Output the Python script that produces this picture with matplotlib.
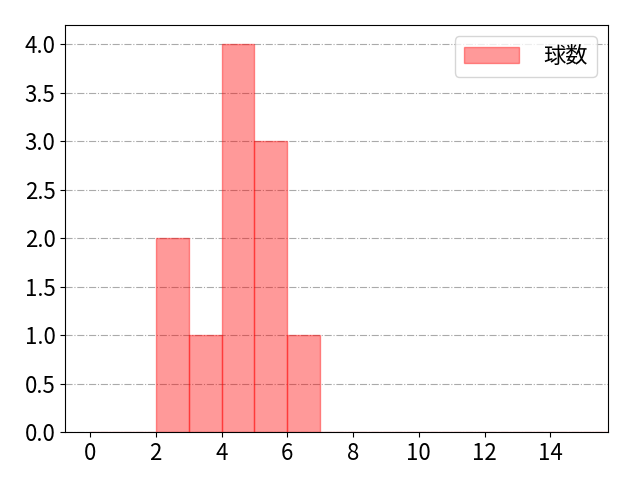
import numpy as np
import matplotlib
matplotlib.use("Agg")
import matplotlib.pyplot as plt

plt.rcParams['font.family'] = ['Noto Sans CJK JP', 'DejaVu Sans']

# pitch counts per at-bat
pitch_counts = [2, 2, 3, 4, 4, 4, 4, 5, 5, 5, 6]
bin_edges = list(range(0, 17))
label = '球数'

fig, ax = plt.subplots(figsize=(6.4, 4.8), dpi=100)
ax.hist(pitch_counts, bins=bin_edges, color='red', alpha=0.4,
        edgecolor='red', linewidth=1, label=label)
ax.set_xlim(-0.75, 15.75)
ax.set_xticks(range(0, 16, 2))
ax.set_yticks(np.arange(0, 4.01, 0.5))
ax.grid(axis='y', linestyle='-.', color='#aaaaaa', linewidth=0.8)
ax.set_axisbelow(True)
ax.tick_params(labelsize=16)
ax.legend(fontsize=16, loc='upper right', handlelength=2.5, handletextpad=1.1)
fig.subplots_adjust(left=0.102, right=0.95, top=0.948, bottom=0.1)
fig.savefig('out.png')
